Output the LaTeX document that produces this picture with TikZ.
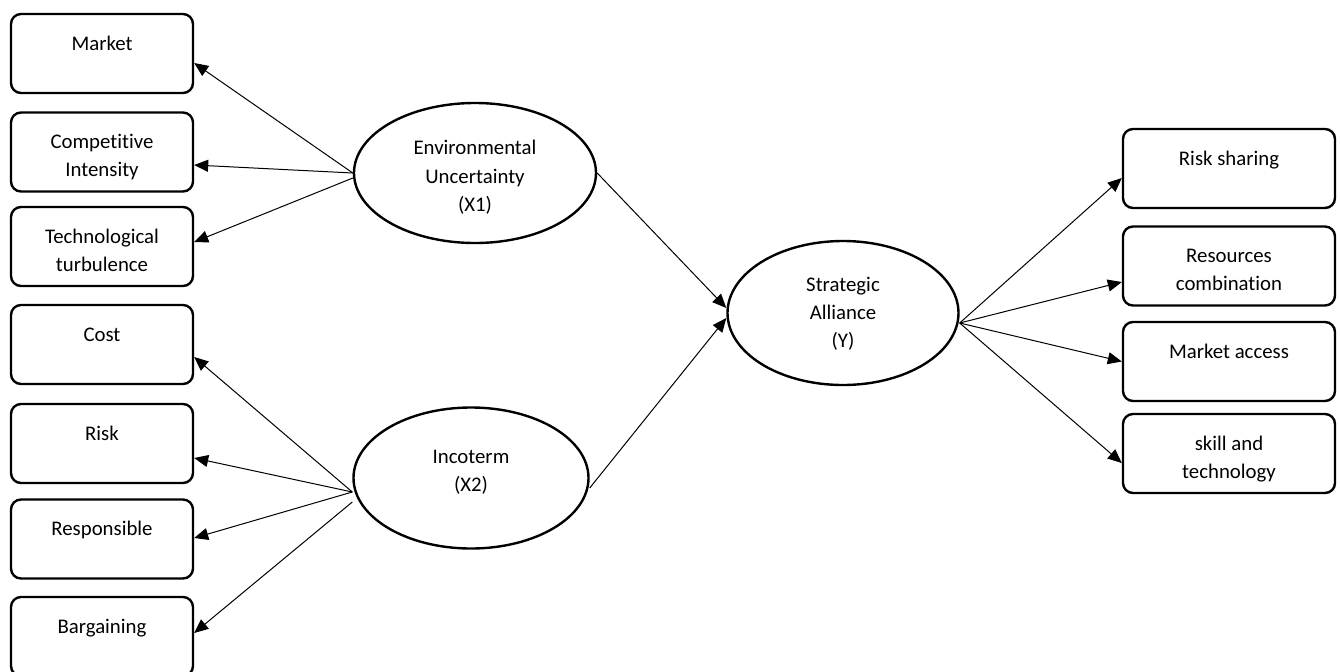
\documentclass[tikz,border=0pt]{standalone}
\usepackage{fontspec}
\setmainfont{Carlito}[Ligatures={NoCommon}]
\usetikzlibrary{arrows.meta,shapes.geometric}
\newcommand{\boxtxt}[2]{\parbox[c][39.5pt][t]{#1}{\centering\rule{0pt}{18.05pt}#2}}
\newcommand{\elltxt}[2]{\parbox[c][44pt][t]{80pt}{\centering\rule{0pt}{#1}#2}}
\tikzset{
  lbox/.style={draw, line width=1.2pt, rounded corners=5pt, inner sep=0pt, minimum width=91pt, minimum height=39.5pt},
  rbox/.style={lbox, minimum width=106pt},
  latent/.style={draw, ellipse, line width=1.2pt, inner sep=0pt},
  arr/.style={-{Triangle[length=7pt,width=6pt]}, line width=0.5pt},
}
\begin{document}
\begin{tikzpicture}[x=0.5pt, y=-0.5pt, font=\fontsize{10.4}{14}\selectfont]
\useasboundingbox (0,0) rectangle (1340,671);
% left indicator boxes
\node[lbox] (market) at (102,53.5)  {\boxtxt{88pt}{Market}};
\node[lbox] (comp)   at (102,152)   {\boxtxt{88pt}{Competitive\\Intensity}};
\node[lbox] (tech)   at (102,246.5) {\boxtxt{88pt}{Technological\\turbulence}};
\node[lbox] (cost)   at (102,344.5) {\boxtxt{88pt}{Cost}};
\node[lbox] (risk)   at (102,443.5) {\boxtxt{88pt}{Risk}};
\node[lbox] (resp)   at (102,539)   {\boxtxt{88pt}{Responsible}};
\node[lbox] (barg)   at (102,636.5) {\boxtxt{88pt}{Bargaining}};
% latent variables
\node[latent, minimum width=121pt, minimum height=70pt] (env) at (475,173)
  {\elltxt{12.8pt}{Environmental\\[0.25pt]Uncertainty\\[0.25pt](X1)}};
\node[latent, minimum width=117.5pt, minimum height=70.5pt] (inc) at (471,478)
  {\elltxt{14.8pt}{Incoterm\\(X2)}};
\node[latent, minimum width=115.5pt, minimum height=72pt] (strat) at (843,313)
  {\elltxt{11.3pt}{Strategic\\Alliance\\(Y)}};
% right indicator boxes
\node[rbox] (rs) at (1229,168.5) {\boxtxt{100pt}{Risk sharing}};
\node[rbox] (rc) at (1229,266)   {\boxtxt{100pt}{Resources\\combination}};
\node[rbox] (ma) at (1229,361.5) {\boxtxt{100pt}{Market access}};
\node[rbox] (st) at (1229,453.5) {\boxtxt{100pt}{skill and\\technology}};
% connectors
\draw[arr] (env.west) -- ([yshift=-4.75pt]market.east);
\draw[arr] (env.west) -- ([yshift=-6.5pt]comp.east);
\draw[arr] ([yshift=-2.5pt]env.west) -- ([yshift=2.25pt]tech.east);
\draw[arr] ([yshift=-7pt]inc.west) -- ([yshift=-6.25pt]cost.east);
\draw[arr] ([yshift=-7pt]inc.west) -- ([yshift=-7.25pt]risk.east);
\draw[arr] ([yshift=-7pt]inc.west) -- ([yshift=0.5pt]resp.east);
\draw[arr] ([yshift=-12pt]inc.west) -- ([yshift=1.75pt]barg.east);
\draw[arr] (env.east) -- ([yshift=2.5pt]strat.west);
\draw[arr] ([yshift=-5pt]inc.east) -- ([yshift=-2.5pt]strat.west);
\draw[arr] ([yshift=-5pt]strat.east) -- ([yshift=-4.75pt]rs.west);
\draw[arr] ([yshift=-5pt]strat.east) -- ([yshift=-8pt]rc.west);
\draw[arr] ([yshift=-5pt]strat.east) -- (ma.west);
\draw[arr] ([yshift=-5pt]strat.east) -- ([yshift=-4.75pt]st.west);
\end{tikzpicture}
\end{document}
